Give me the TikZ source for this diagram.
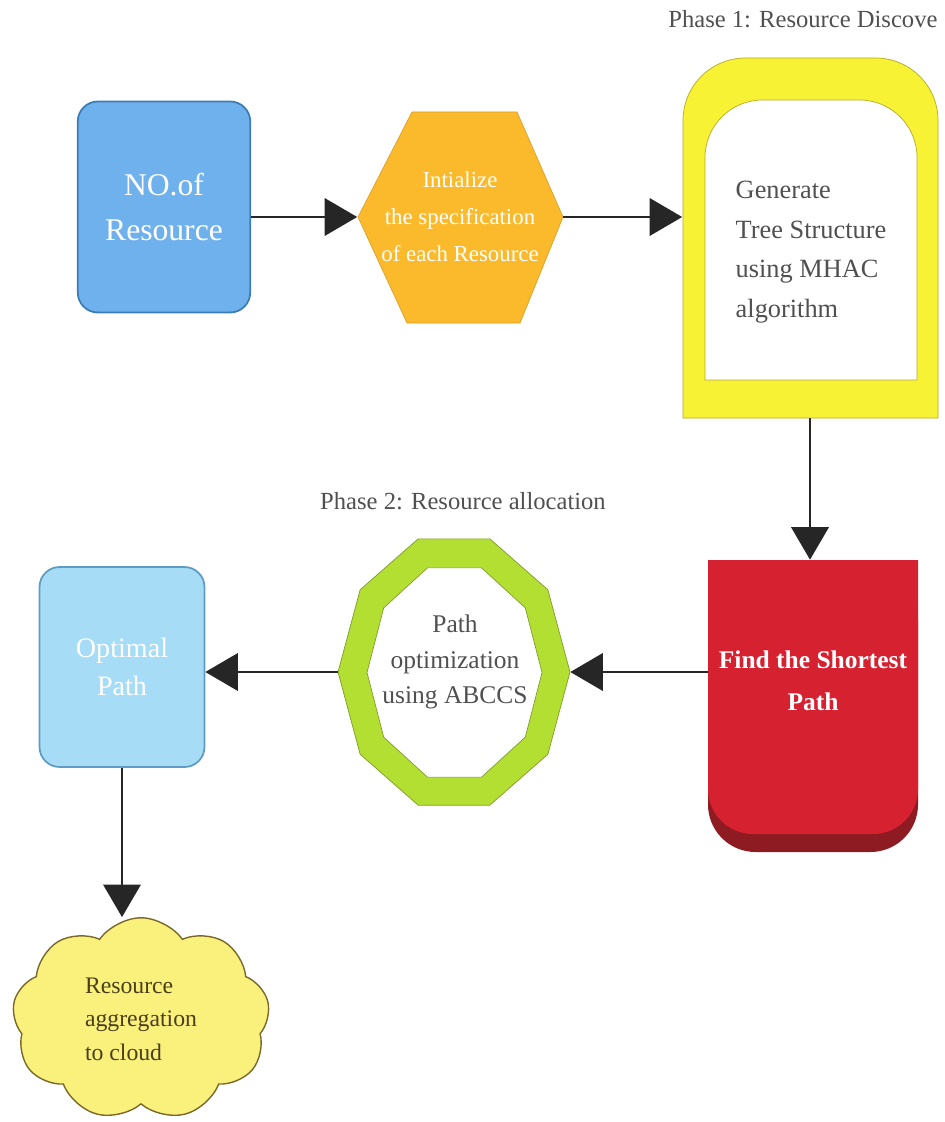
\documentclass[tikz,border=0pt]{standalone}
\usepackage{fontspec}
\setmainfont{Liberation Serif}
\usetikzlibrary{arrows.meta,shapes.symbols}
\definecolor{noblue}{HTML}{6FB1EC}
\definecolor{noedge}{HTML}{3D7DB5}
\definecolor{hexorange}{HTML}{FBBA2C}
\definecolor{hexedge}{HTML}{DDA028}
\definecolor{genyellow}{HTML}{F8F235}
\definecolor{genedge}{HTML}{B5AC20}
\definecolor{findred}{HTML}{D52130}
\definecolor{findshade}{HTML}{8E1B22}
\definecolor{optgreen}{HTML}{B3DE32}
\definecolor{optedge}{HTML}{7E9E2A}
\definecolor{optimalblue}{HTML}{A6DCF6}
\definecolor{optimaledge}{HTML}{5E9CC4}
\definecolor{cloudyellow}{HTML}{FAF07C}
\definecolor{cloudedge}{HTML}{7A6A2A}
\definecolor{cloudtext}{HTML}{4A3F1A}
\definecolor{labelgray}{HTML}{505050}
\begin{document}
\begin{tikzpicture}[x=0.02cm,y=-0.02cm,
	flow/.style={draw=black!85, line width=1.1pt, -{Triangle[length=6.5mm,width=7.5mm]}},
	phase/.style={text=labelgray, font=\fontsize{14}{17}\selectfont, inner sep=0pt},
	nobox/.style={draw=noedge, line width=1pt, fill=noblue, rounded corners=0.4cm, minimum width=3.45cm, minimum height=4.22cm, inner sep=0pt, text=white, align=center, font=\fontsize{18}{25.5}\selectfont},
	hexbox/.style={minimum width=4.1cm, minimum height=4.22cm, inner sep=0pt, text=white, align=center, font=\fontsize{13}{21}\selectfont},
	genbox/.style={minimum width=5.1cm, minimum height=7.2cm, inner sep=0pt},
	gentext/.style={text=labelgray, align=left, font=\fontsize{15}{22.5}\selectfont},
	findbox/.style={minimum width=4.2cm, minimum height=5.84cm, inner sep=0pt},
	findtext/.style={text=white, align=center, font=\bfseries\fontsize{14.5}{24}\selectfont},
	optbox/.style={minimum width=4.64cm, minimum height=5.34cm, inner sep=0pt},
	opttext/.style={text=labelgray, align=center, font=\fontsize{14.5}{20}\selectfont},
	optimalbox/.style={draw=optimaledge, line width=1pt, fill=optimalblue, rounded corners=0.4cm, minimum width=3.3cm, minimum height=4cm, inner sep=0pt, text=white, align=center, font=\fontsize{16}{21.5}\selectfont},
	cloudbox/.style={cloud, cloud puffs=9, cloud puff arc=110, draw=cloudedge, line width=0.8pt, fill=cloudyellow, minimum width=5.15cm, minimum height=4.05cm, text=cloudtext, align=left, font=\fontsize{13.5}{19}\selectfont}]
	\useasboundingbox (0,0) rectangle (945,1122);
	
	\filldraw[draw=hexedge, fill=hexorange] (358,217) -- (412,112) -- (517,112) -- (563,217) -- (520,323) -- (407,323) -- cycle;
	\filldraw[draw=genedge, fill=genyellow] (683,418) [rounded corners=1.25cm] -- (683,58) -- (938,58) [sharp corners] -- (938,418) -- cycle;
	\filldraw[draw=genedge, fill=white] (705,380) [rounded corners=1.15cm] -- (705,100) -- (917,100) [sharp corners] -- (917,380) -- cycle;
	\fill[findshade] (708,620) [rounded corners=0.95cm] -- (708,852) -- (918,852) [sharp corners] -- (918,620) -- cycle;
	\fill[findred] (708,560) [rounded corners=0.9cm] -- (708,834) -- (918,834) [sharp corners] -- (918,560) -- cycle;
	\filldraw[draw=optedge, fill=optgreen] plot[samples at={0,36,...,324}] ({454+116*cos(\x)},{672+140*sin(\x)}) -- cycle;
	\filldraw[draw=optedge, fill=white] plot[samples at={0,36,...,324}] ({454.5+87.5*cos(\x)},{672.5+110*sin(\x)}) -- cycle;
	
	\node[phase, anchor=base west] (phaseone) at (668,28) {Phase 1: Resource Discove};
	\node[phase] (phasetwo) at (463,501) {Phase 2: Resource allocation};
	
	\node[nobox] (nores) at (164,207) {NO.of\\Resource};
	\node[hexbox] (hexa) at (460,217) {Intialize\\the specification\\of each Resource};
	\node[genbox] (gen) at (810,238) {};
	\node[gentext] (gentxt) at (811,252) {Generate\\Tree Structure\\using MHAC\\algorithm};
	\node[findbox] (find) at (813,706) {};
	\node[findtext] (findtxt) at (813,681) {Find the Shortest\\Path};
	\node[optbox] (opt) at (454,672) {};
	\node[opttext] (opttxt) at (455,662) {Path\\optimization\\using ABCCS};
	\node[optimalbox] (optimal) at (122,667) {Optimal\\Path};
	\node[cloudbox] (cloud) at (141,1019) {Resource\\aggregation\\to cloud};
	
	\draw[flow] (nores.east |- hexa.west) -- (hexa.west);
	\draw[flow] (hexa.east) -- (hexa.east -| gen.west);
	\draw[flow] (gen.south) -- (gen.south |- find.north);
	\draw[flow] (find.west |- opt.east) -- (opt.east);
	\draw[flow] (opt.west) -- (opt.west -| optimal.east);
	\draw[flow] (optimal.south) -- (optimal.south |- cloud.north);
\end{tikzpicture}
\end{document}
